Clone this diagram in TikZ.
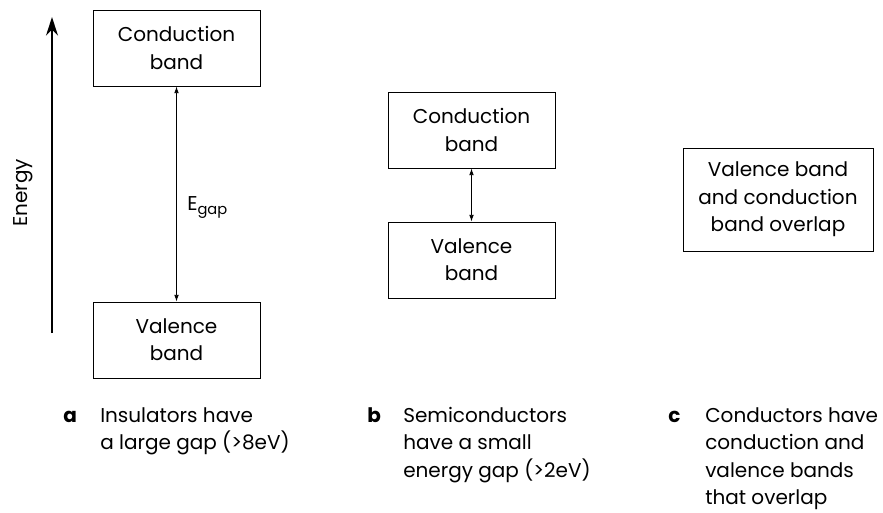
\documentclass[tikz,border=0pt]{standalone}
\usepackage{fontspec}
\setmainfont{Poppins}
\usepackage{tikz}
\usetikzlibrary{arrows.meta,positioning}

\begin{document}
\begin{tikzpicture}[x=0.75pt,y=-0.75pt,
    band/.style={draw,line width=0.7pt,inner sep=0pt,align=center,
      minimum width=125.25pt,minimum height=57pt,
      font=\fontsize{15}{20.5}\selectfont},
    caption/.style={anchor=north west,inner sep=0pt,align=left,
      font=\fontsize{15}{20.6}\selectfont},
    tag/.style={anchor=base west,inner sep=0pt,
      font=\fontsize{15}{20.6}\selectfont\bfseries},
    gap/.style={{Latex[length=5pt,width=3.5pt]}-{Latex[length=5pt,width=3.5pt]},line width=0.6pt}]
  \useasboundingbox (0,0) rectangle (883,512);

  % Energy axis
  \coordinate (elow) at (52,333);
  \coordinate (ehigh) at (52,17);
  \draw[line width=1.4pt,-{Stealth[length=14pt,width=9pt]}] (elow) -- (ehigh);
  \node[rotate=90,font=\fontsize{15}{17}\selectfont] (energy) at (23,193) {Energy};

  % a) insulator
  \node[band] (ca) at (176.5,48) {Conduction\\band};
  \node[band] (va) at (176.5,340) {Valence\\band};
  \draw[gap] (ca.south) -- (va.north);
  \node[anchor=base west,inner sep=0pt,font=\fontsize{15}{17}\selectfont] (egap) at (187,210)
    {E\raisebox{-0.45ex}{\fontsize{11}{12}\selectfont gap}};

  % b) semiconductor
  \node[band] (cb) at (471.5,130) {Conduction\\band};
  \node[band] (vb) at (471.5,260) {Valence\\band};
  \draw[gap] (cb.south) -- (vb.north);

  % c) conductor
  \node[band,minimum width=142.5pt,minimum height=77.25pt] (vc) at (778,199.5)
    {Valence band\\and conduction\\band overlap};

  % Captions
  \node[tag] (taga) at (63,422) {a};
  \node[caption] (capa) at (100,407) {Insulators have\\a large gap (>8eV)};
  \node[tag] (tagb) at (367,422) {b};
  \node[caption] (capb) at (403,407) {Semiconductors\\have a small\\energy gap (>2eV)};
  \node[tag] (tagc) at (668,422) {c};
  \node[caption] (capc) at (705,407) {Conductors have\\conduction and\\valence bands\\that overlap};
\end{tikzpicture}
\end{document}
